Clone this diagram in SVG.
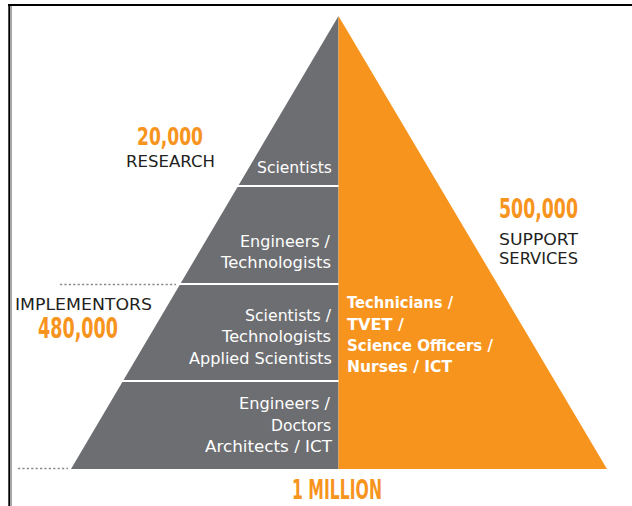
<svg xmlns="http://www.w3.org/2000/svg" width="632" height="506" viewBox="0 0 632 506">
  <style>
    .band { font-family: "DejaVu Sans", "Liberation Sans", sans-serif; font-size: 16.5px; fill: #ffffff; text-anchor: end; }
    .orangeText { font-family: "DejaVu Sans", "Liberation Sans", sans-serif; font-size: 16px; font-weight: bold; fill: #ffffff; }
    .num { font-family: "DejaVu Sans Condensed", "Liberation Sans Narrow", "Liberation Sans", sans-serif; font-weight: bold; fill: #f7941d; }
    .cap { font-family: "DejaVu Sans", "Liberation Sans", sans-serif; font-size: 16px; fill: #231f20; }
    .dot { stroke: #8a8a8a; stroke-width: 1.3; stroke-dasharray: 2.2 2.2; fill: none; }
    .sep { stroke: #ffffff; stroke-width: 2.2; }
  </style>
  <rect width="632" height="506" fill="#ffffff"/>
  <g id="frame">
    <line x1="8" y1="5" x2="632" y2="5" stroke="#000" stroke-width="2"/>
    <line x1="9.3" y1="4" x2="9.3" y2="506" stroke="#000" stroke-width="2"/>
    <line x1="11.3" y1="6" x2="11.3" y2="506" stroke="#444" stroke-width="0.6"/>
  </g>
  <g id="pyramid">
    <polygon points="338.5,16 71,469 338.5,469" fill="#6d6e71"/>
    <polygon points="338.5,16 607,469 338.5,469" fill="#f7941d"/>
  </g>
  <g id="connectors">
    <line class="sep" x1="236" y1="186" x2="338.5" y2="186"/>
    <line class="sep" x1="179" y1="284" x2="338.5" y2="284"/>
    <line class="sep" x1="121" y1="381" x2="338.5" y2="381"/>
    <line class="dot" x1="60" y1="284.5" x2="176" y2="284.5"/>
    <line class="dot" x1="18" y1="468.5" x2="68" y2="468.5"/>
  </g>
  <g id="band-scientists">
    <text class="band" x="332" y="173" textLength="75" lengthAdjust="spacingAndGlyphs">Scientists</text>
  </g>
  <g id="band-engineers">
    <text class="band" x="330" y="247" textLength="90" lengthAdjust="spacingAndGlyphs">Engineers /</text>
    <text class="band" x="331" y="268" textLength="110" lengthAdjust="spacingAndGlyphs">Technologists</text>
  </g>
  <g id="band-applied">
    <text class="band" x="331" y="321" textLength="86" lengthAdjust="spacingAndGlyphs">Scientists /</text>
    <text class="band" x="331" y="342" textLength="109" lengthAdjust="spacingAndGlyphs">Technologists</text>
    <text class="band" x="332" y="364" textLength="143" lengthAdjust="spacingAndGlyphs">Applied Scientists</text>
  </g>
  <g id="band-doctors">
    <text class="band" x="330" y="409" textLength="91" lengthAdjust="spacingAndGlyphs">Engineers /</text>
    <text class="band" x="331" y="431" textLength="60" lengthAdjust="spacingAndGlyphs">Doctors</text>
    <text class="band" x="332" y="452" textLength="127" lengthAdjust="spacingAndGlyphs">Architects / ICT</text>
  </g>
  <g id="support-band">
    <text class="orangeText" x="347" y="308" textLength="106" lengthAdjust="spacingAndGlyphs">Technicians /</text>
    <text class="orangeText" x="347" y="330" textLength="57" lengthAdjust="spacingAndGlyphs">TVET /</text>
    <text class="orangeText" x="347" y="351" textLength="146" lengthAdjust="spacingAndGlyphs">Science Officers /</text>
    <text class="orangeText" x="347" y="372" textLength="105" lengthAdjust="spacingAndGlyphs">Nurses / ICT</text>
  </g>
  <g id="label-research">
    <text class="num" x="137" y="145" font-size="25" textLength="66" lengthAdjust="spacingAndGlyphs">20,000</text>
    <text class="cap" x="126" y="167" textLength="89" lengthAdjust="spacingAndGlyphs">RESEARCH</text>
  </g>
  <g id="label-support">
    <text class="num" x="499" y="218" font-size="27" textLength="79" lengthAdjust="spacingAndGlyphs">500,000</text>
    <text class="cap" x="499" y="245" textLength="79" lengthAdjust="spacingAndGlyphs">SUPPORT</text>
    <text class="cap" x="499" y="264" textLength="79" lengthAdjust="spacingAndGlyphs">SERVICES</text>
  </g>
  <g id="label-implementors">
    <text class="cap" x="15" y="310" textLength="137" lengthAdjust="spacingAndGlyphs">IMPLEMENTORS</text>
    <text class="num" x="38" y="338" font-size="28" textLength="80" lengthAdjust="spacingAndGlyphs">480,000</text>
  </g>
  <g id="label-total">
    <text class="num" x="292" y="499" font-size="27" textLength="90" lengthAdjust="spacingAndGlyphs">1 MILLION</text>
  </g>
</svg>
